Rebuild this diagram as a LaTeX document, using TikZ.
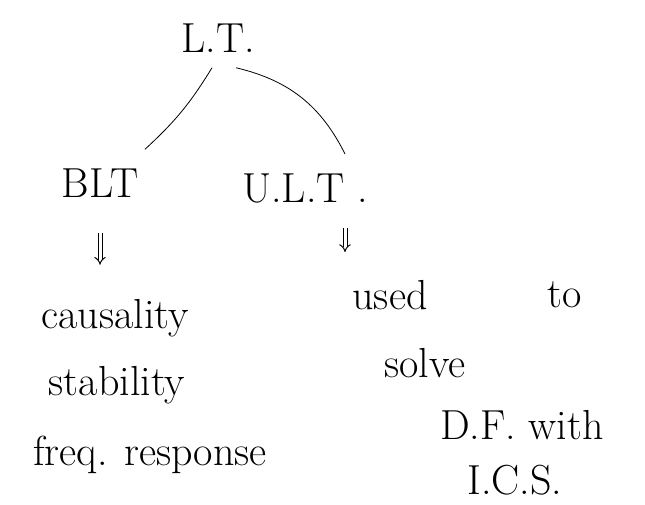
\documentclass[tikz,border=0pt]{standalone}
\usetikzlibrary{arrows.meta}
\begin{document}
\begin{tikzpicture}[x=1pt,y=-1pt,>=Stealth,thick,
    word/.style={font=\fontsize{42}{44}\selectfont, inner sep=1pt},
    dbl/.style={double, double distance=3pt, line width=1pt, -{Implies}}]
        \useasboundingbox (0,0) rectangle (645,505);
        \node (lt) [word] at (218,38) {L.T.};
        \node (blt) [word] at (100,183) {BLT};
        \node (ult) [word] at (305,188) {U.L.T .};
        \node (caus) [word] at (115,318) {causality};
        \node (stab) [word] at (117,385) {stability};
        \node (freq) [word] at (150,455) {freq. response};
        \node (used) [word] at (390,295) {used};
        \node (to) [word] at (565,295) {to};
        \node (solve) [word] at (425,363) {solve};
        \node (df) [word] at (522,425) {D.F. with};
        \node (ics) [word] at (515,480) {I.C.S.};
        
        \coordinate (ltl) at ([xshift=-6pt,yshift=-14pt]lt.south);
        \coordinate (ltr) at ([xshift=18pt,yshift=-14pt]lt.south);
        \coordinate (bltn) at ([xshift=45pt,yshift=18pt]blt.north);
        \coordinate (ultn) at ([xshift=40pt,yshift=18pt]ult.north);
        \draw (ltl) to[bend left=8] (bltn);
        \draw (ltr) to[bend left=25] (ultn);
        \draw[dbl] ([yshift=-34pt]blt.south) coordinate (a1) -- ++(0,32) coordinate (b1);
        \draw[dbl] ([xshift=40pt,yshift=-24pt]ult.south) coordinate (a2) -- ++(0,24) coordinate (b2);
    \end{tikzpicture}
\end{document}
